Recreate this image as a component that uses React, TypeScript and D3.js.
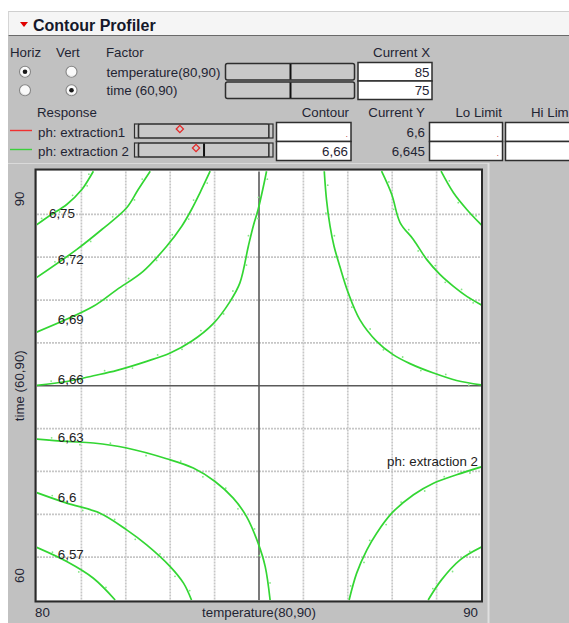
import React from "react";
import * as d3 from "d3";

type Pt = [number, number];

// ---- factors ----
const factorLabels = ["temperature(80,90)", "time (60,90)"];
const factorRanges: [number, number][] = [[80, 90], [60, 90]];
const factorCurrent = [85, 75];
const horizChecked = [true, false];
const vertChecked = [false, true];

// ---- responses ----
const responseLabels = ["ph: extraction1", "ph: extraction 2"];
const responseColors = ["#f03030", "#3ccf3c"];
const responseCurrentY = [6.6, 6.645];
const responseContour: (number | null)[] = [null, 6.66];
const responseSliderRanges: [number, number][] = [[6.505, 6.805], [6.538, 6.78]];

// ---- axis text ----
const xEndLabels = ["80", "90"];
const yEndLabels = ["60", "90"];
const xAxisTitle = "temperature(80,90)";
const yAxisTitle = "time (60,90)";
const plotResponseLabel = "ph: extraction 2";

// ---- contour lines of ph: extraction 2, as [temperature, time] ----
const contour675: Pt[] = [[79.98, 86.24], [80.29, 86.92], [80.67, 87.69], [81.01, 88.74], [81.16, 89.44], [81.27, 90.02]];
const contour672: Pt[] = [[79.98, 82.55], [80.89, 84.53], [81.46, 85.94], [82.02, 87.46], [82.28, 88.74], [82.55, 90.02]];
const contour669: Pt[] = [[79.98, 78.74], [81.27, 80.56], [81.8, 81.73], [82.39, 83.01], [82.92, 84.77], [83.26, 86.17], [83.48, 87.34], [83.67, 88.51], [83.9, 90.02]];
const contour666: Pt[] = [[79.98, 75.02], [80.67, 75.3], [81.27, 75.7], [81.8, 76.08], [82.47, 76.71], [83.0, 77.29], [83.48, 78.11], [83.97, 79.35], [84.35, 80.91], [84.57, 82.2], [84.76, 84.77], [84.87, 86.17], [84.98, 87.34], [85.1, 88.97], [85.17, 90.02]];
const contour663: Pt[] = [[79.98, 71.27], [80.67, 71.1], [81.27, 70.99], [82.02, 70.64], [82.92, 69.89], [83.52, 69.24], [84.01, 68.3], [84.42, 67.13], [84.72, 65.84], [84.98, 63.98], [85.14, 62.34], [85.25, 60.0]];
const contour660: Pt[] = [[79.98, 67.53], [80.67, 66.78], [81.42, 66.08], [82.02, 64.91], [82.47, 63.86], [83.0, 62.34], [83.3, 61.18], [83.48, 60.0]];
const contour657: Pt[] = [[79.98, 63.7], [80.67, 62.69], [81.27, 61.52], [81.76, 60.0]];
const contour663Right: Pt[] = [[86.47, 90.02], [86.52, 88.04], [86.6, 86.17], [86.69, 84.77], [86.82, 83.36], [87.01, 81.5], [87.27, 79.63], [87.65, 78.11], [88.02, 77.18], [88.4, 76.55], [88.93, 75.89], [89.45, 75.37], [90.02, 75.06]];
const contour660Right: Pt[] = [[87.76, 90.02], [87.99, 88.39], [88.18, 86.41], [88.48, 85.23], [88.78, 83.83], [89.08, 82.78], [89.38, 81.96], [89.68, 81.26], [90.02, 80.64]];
const contour657Right: Pt[] = [[89.1, 90.02], [89.38, 88.51], [89.68, 87.34], [90.02, 86.22]];
const contour666Right: Pt[] = [[87.03, 60.0], [87.2, 61.88], [87.43, 63.51], [87.65, 64.68], [87.99, 66.08], [88.48, 67.37], [88.93, 68.18], [89.45, 68.77], [90.02, 69.33]];
const contour669Right: Pt[] = [[88.81, 60.0], [89.11, 61.41], [89.53, 62.81], [90.02, 63.72]];

// level, line, temperature where its label starts (null = unlabeled)
const contourLines: { level: number; points: Pt[]; labelAt: number | null }[] = [
  { level: 6.75, points: contour675, labelAt: 80.27 },
  { level: 6.72, points: contour672, labelAt: 80.47 },
  { level: 6.69, points: contour669, labelAt: 80.47 },
  { level: 6.66, points: contour666, labelAt: 80.47 },
  { level: 6.63, points: contour663, labelAt: 80.47 },
  { level: 6.6, points: contour660, labelAt: 80.47 },
  { level: 6.57, points: contour657, labelAt: 80.47 },
  { level: 6.63, points: contour663Right, labelAt: null },
  { level: 6.6, points: contour660Right, labelAt: null },
  { level: 6.57, points: contour657Right, labelAt: null },
  { level: 6.66, points: contour666Right, labelAt: null },
  { level: 6.69, points: contour669Right, labelAt: null },
];

const FONT = "'Liberation Sans', Arial, sans-serif";
const TXT = "#1f2433";
const PANEL = "#c1c1c1";
const GREEN = "#33d633";
const fmt = (v: number) => String(v).replace(".", ",");

function interpY(points: Pt[], t: number): number {
  for (let i = 1; i < points.length; i++) {
    const [x0, y0] = points[i - 1];
    const [x1, y1] = points[i];
    if ((t >= x0 && t <= x1) || (t <= x0 && t >= x1)) {
      const f = x1 === x0 ? 0 : (t - x0) / (x1 - x0);
      return y0 + f * (y1 - y0);
    }
  }
  return points[0][1];
}

function Radio({ cx, cy, on }: { cx: number; cy: number; on: boolean }) {
  return (
    <g>
      <circle cx={cx} cy={cy} r={5.5} fill="#fafafa" stroke="#858585" strokeWidth={1.1} />
      <path d={`M${cx - 4},${cy + 2} A4.5,4.5 0 0 0 ${cx + 2},${cy + 4}`} fill="none" stroke="#e4e4e4" strokeWidth={1} />
      {on && <circle cx={cx} cy={cy} r={2.3} fill="#1a1a1a" />}
    </g>
  );
}

export default function App() {
  // plot geometry
  const left = 37, right = 481, top = 171.5, bottom = 600;
  const x = d3.scaleLinear().domain(factorRanges[0]).range([left, right]);
  const y = d3.scaleLinear().domain(factorRanges[1]).range([bottom, top]);
  const gridX = d3.range(81, 90, 1).filter((v) => v !== factorCurrent[0]);
  const gridY = d3.range(63, 90, 3).filter((v) => v !== factorCurrent[1]);

  const line = d3
    .line<Pt>()
    .x((d) => x(d[0]))
    .y((d) => y(d[1]))
    .curve(d3.curveCatmullRom.alpha(0.5));

  // faint sample dots beside each contour segment
  const dots: { cx: number; cy: number }[] = [];
  contourLines.forEach((c) => {
    for (let i = 1; i < c.points.length; i++) {
      const ax = x(c.points[i - 1][0]), ay = y(c.points[i - 1][1]);
      const bx = x(c.points[i][0]), by = y(c.points[i][1]);
      const len = Math.hypot(bx - ax, by - ay) || 1;
      const nx = -(by - ay) / len, ny = (bx - ax) / len;
      const s = i % 2 === 0 ? 2.4 : -2.4;
      dots.push({ cx: (ax + bx) / 2 + nx * s, cy: (ay + by) / 2 + ny * s });
    }
  });

  // factor slider and response slider geometry
  const fSlider = factorRanges.map((r) => d3.scaleLinear().domain(r).range([226, 355]));
  const rSlider = responseSliderRanges.map((r) => d3.scaleLinear().domain(r).range([139, 268]));
  const factorRowY = [63.5, 82];
  const respRowY = [123, 142];

  return (
    <svg
      width={569}
      height={623}
      style={{ position: "absolute", left: 0, top: 0, background: "#fff" }}
      fontFamily={FONT}
    >
      <defs>
        <clipPath id="plotClip">
          <rect x={left} y={top - 1} width={right - left} height={bottom - top + 2} />
        </clipPath>
      </defs>

      {/* title bar */}
      <rect x={8} y={11.5} width={561} height={24} fill="#f5f5f5" />
      <line x1={8} x2={569} y1={11.5} y2={11.5} stroke="#cfcfcf" />
      <line x1={8} x2={569} y1={35.5} y2={35.5} stroke="#6a6a6a" />
      <line x1={8.5} x2={8.5} y1={11.5} y2={35.5} stroke="#d5d5d5" />
      <path d="M20,22 L28,22 L24,27 Z" fill="#e00000" />
      <text x={33} y={30.5} fontSize={16} fontWeight="bold" fill="#15182a">Contour Profiler</text>

      {/* panel */}
      <rect x={8} y={36} width={561} height={587} fill={PANEL} />

      {/* factor table */}
      <g fontSize={13.3} fill={TXT}>
        <text x={10} y={57}>Horiz</text>
        <text x={56} y={57}>Vert</text>
        <text x={106} y={57}>Factor</text>
        <text x={430} y={57} textAnchor="end">Current X</text>
      </g>
      {factorLabels.map((lab, i) => {
        const ry = factorRowY[i];
        const cy = ry + 8.3;
        return (
          <g key={lab}>
            <Radio cx={25} cy={cy} on={horizChecked[i]} />
            <Radio cx={71.5} cy={cy} on={vertChecked[i]} />
            <text x={106.5} y={ry + 13.2} fontSize={13.3} fill={TXT}>{lab}</text>
            <rect x={225.5} y={ry} width={129} height={16.5} rx={2} fill="#c9c9c9" stroke="#2e2e2e" strokeWidth={1.5} />
            <line x1={fSlider[i](factorCurrent[i])} x2={fSlider[i](factorCurrent[i])} y1={ry + 0.5} y2={ry + 16} stroke="#111" strokeWidth={2} />
            <rect x={358} y={ry - 1} width={74} height={18.5} fill="#fff" stroke="#2e2e2e" strokeWidth={1.5} />
            <text x={429.5} y={ry + 13.3} fontSize={13.3} fill={TXT} textAnchor="end">{fmt(factorCurrent[i])}</text>
          </g>
        );
      })}

      {/* response table */}
      <g fontSize={13.3} fill={TXT}>
        <text x={37} y={116.5}>Response</text>
        <text x={349} y={116.5} textAnchor="end">Contour</text>
        <text x={425} y={116.5} textAnchor="end">Current Y</text>
        <text x={502} y={116.5} textAnchor="end">Lo Limit</text>
        <text x={531} y={116.5}>Hi Lim</text>
      </g>
      {responseLabels.map((lab, i) => {
        const ry = respRowY[i];
        const cy = ry + 6;
        const dX = rSlider[i](responseCurrentY[i]);
        const cv = responseContour[i];
        return (
          <g key={lab}>
            <line x1={10} x2={32} y1={ry + 7.5} y2={ry + 7.5} stroke={responseColors[i]} strokeWidth={1.4} />
            <text x={38} y={ry + 13.7} fontSize={13.3} fill={TXT}>{lab}</text>
            <rect x={134.5} y={ry + 1} width={4} height={14} fill="#c9c9c9" stroke="#2e2e2e" strokeWidth={1.2} />
            <rect x={138.5} y={ry + 1} width={130.5} height={14} rx={1.5} fill="#c9c9c9" stroke="#2e2e2e" strokeWidth={1.5} />
            <rect x={269} y={ry + 1} width={4} height={14} fill="#c9c9c9" stroke="#2e2e2e" strokeWidth={1.2} />
            {cv !== null && (
              <line x1={rSlider[i](cv)} x2={rSlider[i](cv)} y1={ry + 1.5} y2={ry + 14.5} stroke="#111" strokeWidth={2} />
            )}
            <path
              d={`M${dX},${cy - 3.6} L${dX + 3.6},${cy} L${dX},${cy + 3.6} L${dX - 3.6},${cy} Z`}
              fill="none"
              stroke="#e62828"
              strokeWidth={1.3}
            />
            <rect x={276.5} y={ry - 0.5} width={74.5} height={19} fill="#fff" stroke="#2e2e2e" strokeWidth={1.5} />
            {cv !== null ? (
              <text x={348} y={ry + 13.5} fontSize={13.3} fill={TXT} textAnchor="end">{fmt(cv)}</text>
            ) : (
              <text x={348} y={ry + 14} fontSize={9} fill="#c05050" textAnchor="end">.</text>
            )}
            <text x={425} y={ry + 13.5} fontSize={13.3} fill={TXT} textAnchor="end">{fmt(responseCurrentY[i])}</text>
            <rect x={429.5} y={ry - 0.5} width={73} height={19} fill="#fff" stroke="#2e2e2e" strokeWidth={1.5} />
            <text x={499} y={ry + 14} fontSize={9} fill="#c05050" textAnchor="end">.</text>
            <rect x={505.5} y={ry - 0.5} width={75} height={19} fill="#fff" stroke="#2e2e2e" strokeWidth={1.5} />
          </g>
        );
      })}

      {/* plot area frame */}
      <line x1={8} x2={488} y1={163.5} y2={163.5} stroke="#dadada" />
      <line x1={488.5} x2={488.5} y1={163} y2={623} stroke="#e0e0e0" strokeWidth={2} />
      <rect x={left} y={top - 1} width={right - left} height={bottom - top + 1.5} fill="#fff" />

      {/* grid */}
      <g stroke="#c6c6c6" strokeWidth={1.7} strokeDasharray="2 1">
        {gridX.map((v) => (
          <line key={`gx${v}`} x1={x(v)} x2={x(v)} y1={top} y2={bottom} />
        ))}
        {gridY.map((v) => (
          <line key={`gy${v}`} x1={left} x2={right} y1={y(v)} y2={y(v)} />
        ))}
      </g>

      {/* crosshair at the current factor settings */}
      <g stroke="#5a5a5a" strokeWidth={1.6}>
        <line x1={x(factorCurrent[0])} x2={x(factorCurrent[0])} y1={top} y2={bottom} />
        <line x1={left} x2={right} y1={y(factorCurrent[1])} y2={y(factorCurrent[1])} />
      </g>

      {/* contours */}
      <g clipPath="url(#plotClip)">
        {dots.map((d, i) => (
          <circle key={`d${i}`} cx={d.cx} cy={d.cy} r={0.9} fill="#85e585" />
        ))}
        {contourLines.map((c, i) => (
          <path key={`c${i}`} d={line(c.points) || ""} fill="none" stroke={GREEN} strokeWidth={1.7} />
        ))}
      </g>

      {/* contour labels */}
      <g fontSize={13.3} fill="#222">
        {contourLines
          .filter((c) => c.labelAt !== null)
          .map((c, i) => (
            <text key={`l${i}`} x={x(c.labelAt as number)} y={y(interpY(c.points, c.labelAt as number)) + 1.5}>
              {fmt(c.level)}
            </text>
          ))}
      </g>
      <text x={478} y={466} fontSize={13.3} fill="#222" textAnchor="end">{plotResponseLabel}</text>

      {/* frame border */}
      <rect x={35.5} y={169.5} width={446.5} height={432} fill="none" stroke="#2a2a2a" strokeWidth={2} />

      {/* axis texts */}
      <g fontSize={13.3} fill={TXT}>
        <text x={x(factorRanges[0][0]) - 2} y={616.5}>{xEndLabels[0]}</text>
        <text x={x(factorRanges[0][1]) - 3} y={616.5} textAnchor="end">{xEndLabels[1]}</text>
        <text x={(left + right) / 2} y={616.5} textAnchor="middle">{xAxisTitle}</text>
        <text transform={`translate(24,${bottom - 17}) rotate(-90)`}>{yEndLabels[0]}</text>
        <text transform={`translate(24,${top + 20}) rotate(-90)`} textAnchor="end">{yEndLabels[1]}</text>
        <text transform={`translate(24,${(top + bottom) / 2}) rotate(-90)`} textAnchor="middle">{yAxisTitle}</text>
      </g>
    </svg>
  );
}
